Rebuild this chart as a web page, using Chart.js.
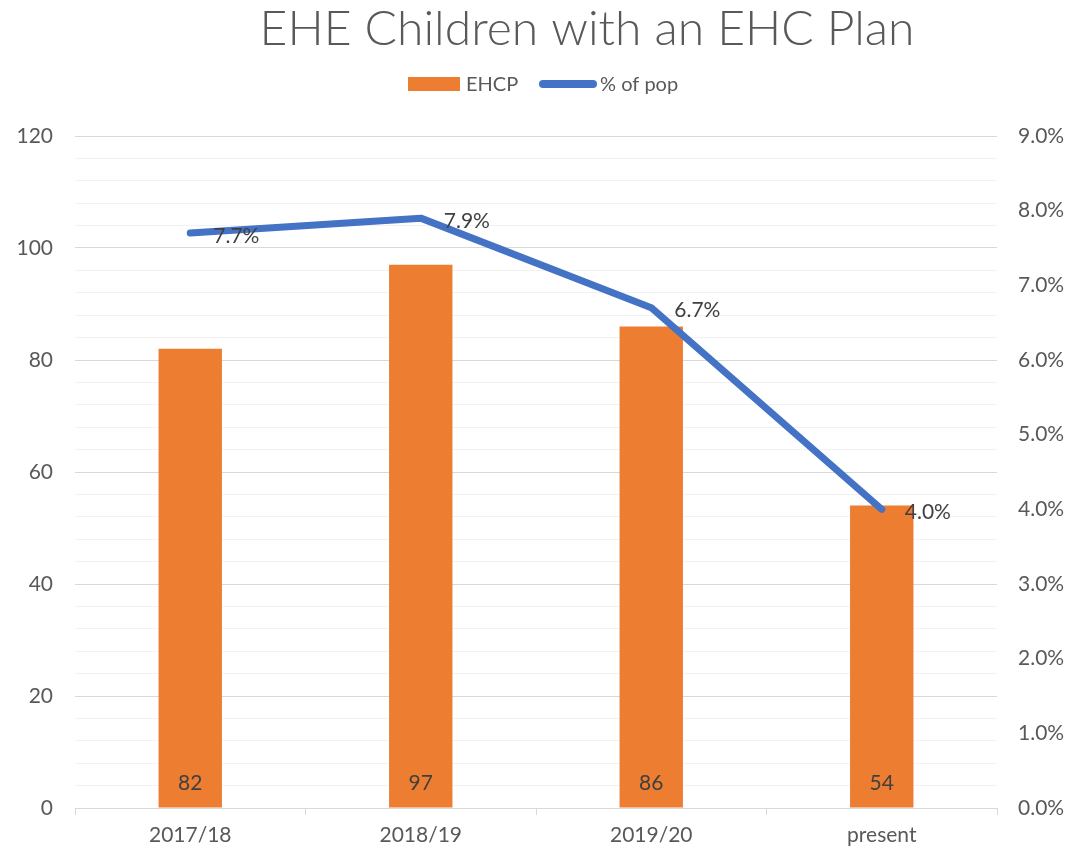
<!DOCTYPE html>
<html>
<head>
<meta charset="utf-8">
<script src="https://cdn.jsdelivr.net/npm/chart.js@4"></script>
<style>
  html, body { margin: 0; padding: 0; background: #fff; }
  #wrap { width: 1071px; height: 852px; }
</style>
</head>
<body>
<div id="wrap"><canvas id="ehcpChart"></canvas></div>
<script>
const categories = ['2017/18', '2018/19', '2019/20', 'present'];
const ehcpCounts = [82, 97, 86, 54];
const pctOfPop = [7.7, 7.9, 6.7, 4.0];
const chartTitle = 'EHE Children with an EHC Plan';
const seriesNames = ['EHCP', '% of pop'];

const FONT = 'Lato, "Open Sans", sans-serif';
const TEXT = '#595959';

// title, legend and data labels drawn by hand
const decorations = {
    id: 'decorations',
    afterDatasetsDraw(chart) {
        const c = chart.ctx;
        c.save();
        c.fillStyle = TEXT;
        c.font = '300 48px ' + FONT;
        c.textAlign = 'center';
        c.textBaseline = 'middle';
        c.fillText(chartTitle, 587, 30);

        // legend
        c.fillStyle = '#ED7D31';
        c.fillRect(408, 77, 52, 14);
        c.fillStyle = TEXT;
        c.font = '20px ' + FONT;
        c.textAlign = 'left';
        c.fillText(seriesNames[0], 466, 85);
        c.strokeStyle = '#4472C4';
        c.lineWidth = 8;
        c.lineCap = 'round';
        c.beginPath();
        c.moveTo(543, 84);
        c.lineTo(593, 84);
        c.stroke();
        c.fillText(seriesNames[1], 600, 85);

        // bar labels
        c.font = '21px ' + FONT;
        const barMeta = chart.getDatasetMeta(0);
        c.fillStyle = '#404040';
        c.textAlign = 'center';
        barMeta.data.forEach((bar, i) => {
            c.fillText(ehcpCounts[i], bar.x, bar.base - 24);
        });
        // line labels
        const lineMeta = chart.getDatasetMeta(1);
        c.textAlign = 'left';
        lineMeta.data.forEach((pt, i) => {
            c.fillText(pctOfPop[i].toFixed(1) + '%', pt.x + 23, pt.y + 3);
        });
        c.restore();
    }
};

const ctx = document.getElementById('ehcpChart').getContext('2d');
new Chart(ctx, {
    data: {
        labels: categories,
        datasets: [{
            type: 'bar',
            label: seriesNames[0],
            data: ehcpCounts,
            backgroundColor: '#ED7D31',
            yAxisID: 'y',
            barPercentage: 0.55,
            categoryPercentage: 0.5,
            order: 2
        }, {
            type: 'line',
            label: seriesNames[1],
            data: pctOfPop,
            borderColor: '#4472C4',
            borderWidth: 7,
            borderCapStyle: 'round',
            borderJoinStyle: 'round',
            pointRadius: 0,
            tension: 0,
            yAxisID: 'y1',
            order: 1
        }]
    },
    options: {
        responsive: true,
        maintainAspectRatio: false,
        animation: false,
        layout: { padding: { top: 136, left: 0, right: 0, bottom: 0 } },
        plugins: {
            legend: { display: false },
            title: { display: false },
            tooltip: { enabled: false }
        },
        scales: {
            x: {
                offset: true,
                grid: {
                    offset: true,
                    drawOnChartArea: false,
                    drawTicks: true,
                    tickLength: 7,
                    color: '#d9d9d9'
                },
                border: { color: '#d9d9d9', width: 1 },
                ticks: { color: TEXT, font: { family: FONT, size: 21 }, padding: 8 },
                afterFit(scale) { scale.height = 44; }
            },
            y: {
                position: 'left',
                min: 0,
                max: 120,
                ticks: {
                    stepSize: 4,
                    autoSkip: false,
                    color: TEXT,
                    font: { family: FONT, size: 21 },
                    padding: 22,
                    callback: v => (v % 20 === 0 ? v : '')
                },
                grid: {
                    drawTicks: false,
                    color: c => (c.tick && c.tick.value % 20 === 0 ? '#d9d9d9' : '#f2f2f2'),
                    lineWidth: 1
                },
                border: { display: false },
                afterFit(scale) { scale.width = 75; }
            },
            y1: {
                position: 'right',
                min: 0,
                max: 9,
                ticks: {
                    stepSize: 1,
                    color: TEXT,
                    font: { family: FONT, size: 21 },
                    padding: 21,
                    callback: v => v.toFixed(1) + '%'
                },
                grid: { drawOnChartArea: false, drawTicks: false },
                border: { display: false },
                afterFit(scale) { scale.width = 74; }
            }
        }
    },
    plugins: [decorations]
});
</script>
</body>
</html>
